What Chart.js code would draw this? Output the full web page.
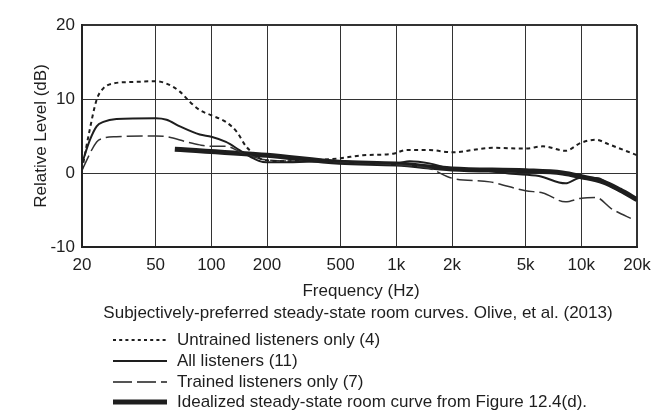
<!DOCTYPE html>
<html><head><meta charset="utf-8">
<script src="https://cdn.jsdelivr.net/npm/chart.js@4/dist/chart.umd.min.js"></script>
<style>html,body{margin:0;padding:0;background:#fff}#wrap{width:671px;height:414px}</style>
</head><body><div id="wrap"><canvas id="c" width="671" height="414"></canvas></div>
<script>
const xTickValues = [20, 50, 100, 200, 500, 1000, 2000, 5000, 10000, 20000];
const xTickLabels = ['20', '50', '100', '200', '500', '1k', '2k', '5k', '10k', '20k'];
const yTickValues = [-10, 0, 10, 20];

const untrainedFreq = [20, 22, 24, 26, 29.5, 37.6, 50, 57, 67.6, 76.7, 86.6, 100, 120, 137, 154, 168, 190, 250, 350, 500, 660, 960, 1130, 1510, 2000, 3300, 5000, 6200, 8200, 10000, 12000, 14000, 20000];
const untrainedDb   = [0.4, 5.8, 9.9, 11.4, 12.1, 12.3, 12.4, 12.1, 11.0, 9.6, 8.5, 7.8, 6.9, 5.6, 3.6, 2.7, 1.8, 1.6, 1.7, 2.0, 2.4, 2.6, 3.1, 3.1, 2.8, 3.4, 3.3, 3.6, 3.0, 4.1, 4.5, 3.9, 2.4];

const allFreq = [20, 22.1, 24, 26.1, 30.7, 50, 57.3, 67.6, 86.6, 100, 120, 142, 168, 190, 245, 437, 1000, 1180, 1510, 1870, 2800, 4200, 5900, 8200, 10000, 12400, 14500, 20000];
const allDb   = [1.3, 4.5, 6.3, 6.9, 7.3, 7.4, 7.2, 6.3, 5.2, 4.9, 4.2, 3.1, 2.0, 1.5, 1.45, 1.6, 1.3, 1.6, 1.3, 0.7, 0.4, -0.1, -0.4, -1.4, -0.6, -0.7, -1.8, -3.6];

const trainedFreq = [20, 24, 26.1, 30.7, 50, 57.3, 73.6, 86.6, 100, 120, 142, 168, 199, 300, 500, 1000, 1510, 2000, 3200, 5000, 6200, 8200, 10000, 12000, 14500, 19500];
const trainedDb   = [0.4, 4.2, 4.7, 4.9, 5.0, 4.9, 4.2, 3.8, 3.6, 3.6, 2.9, 2.2, 1.76, 1.6, 1.5, 1.1, 0.6, -0.7, -1.2, -2.4, -2.7, -3.9, -3.4, -3.3, -4.8, -6.4];

const idealFreq = [63.5, 200, 492, 1000, 2000, 5000, 7900, 10000, 13100, 16200, 20000];
const idealDb   = [3.2, 2.4, 1.45, 1.2, 0.55, 0.3, 0.0, -0.5, -1.2, -2.3, -3.6];

const seriesNames = ['Untrained listeners only (4)', 'All listeners (11)', 'Trained listeners only (7)', 'Idealized steady-state room curve from Figure 12.4(d).'];
const captionText = 'Subjectively-preferred steady-state room curves. Olive, et al. (2013)';
const xTitleText = 'Frequency (Hz)';

const FONT = '"Liberation Sans", Arial, Helvetica, sans-serif';
const INK = '#1e1e1e';
const pts = (f, d) => f.map((v, i) => ({x: v, y: d[i]}));

const bottomPlugin = {
  id: 'bottomText',
  afterDraw(chart) {
    const ctx = chart.ctx;
    ctx.save();
    ctx.fillStyle = INK;
    ctx.textBaseline = 'middle';
    ctx.font = '17px ' + FONT;
    ctx.textAlign = 'center';
    ctx.fillText(xTitleText, 361, 291);
    ctx.fillText(captionText, 358, 313);
    ctx.textAlign = 'left';
    const rows = [340, 361, 382, 402];
    chart.data.datasets.forEach((ds, i) => {
      ctx.save();
      ctx.strokeStyle = INK;
      ctx.lineWidth = ds.legendWidth;
      ctx.setLineDash(ds.legendDash);
      ctx.beginPath();
      ctx.moveTo(113, rows[i]);
      ctx.lineTo(167, rows[i]);
      ctx.stroke();
      ctx.restore();
      ctx.fillText(ds.label, 177, rows[i]);
    });
    ctx.restore();
  }
};

new Chart(document.getElementById('c'), {
  type: 'line',
  data: {
    datasets: [
      {label: seriesNames[0], data: pts(untrainedFreq, untrainedDb), borderColor: INK, borderWidth: 2, borderDash: [4, 3.5], legendDash: [3, 3.2], legendWidth: 2},
      {label: seriesNames[1], data: pts(allFreq, allDb), borderColor: INK, borderWidth: 2, borderDash: [], legendDash: [], legendWidth: 2},
      {label: seriesNames[2], data: pts(trainedFreq, trainedDb), borderColor: '#333', borderWidth: 1.5, borderDash: [16, 5], legendDash: [19, 5], legendWidth: 1.5},
      {label: seriesNames[3], data: pts(idealFreq, idealDb), borderColor: INK, borderWidth: 5, borderDash: [], legendDash: [], legendWidth: 5}
    ]
  },
  options: {
    responsive: false,
    animation: false,
    devicePixelRatio: 1,
    layout: {padding: {left: 0, right: 34, top: 25, bottom: 0}},
    elements: {point: {radius: 0}, line: {cubicInterpolationMode: 'monotone', fill: false}},
    plugins: {legend: {display: false}, tooltip: {enabled: false}},
    scales: {
      x: {
        type: 'logarithmic', min: 20, max: 20000,
        afterBuildTicks: s => { s.ticks = xTickValues.map(v => ({value: v})); },
        afterFit: s => { s.height = 167; },
        ticks: {autoSkip: false, maxRotation: 0, padding: 8, color: INK, font: {family: FONT, size: 17},
          callback: (v, i) => xTickLabels[i]},
        grid: {drawTicks: false, color: '#333', lineWidth: c => (c.tick && (c.tick.value === 20000)) ? 2 : 1},
        border: {display: true, color: '#222', width: 2}
      },
      y: {
        min: -10, max: 20,
        afterBuildTicks: s => { s.ticks = yTickValues.map(v => ({value: v})); },
        afterFit: s => { s.width = 82; },
        ticks: {padding: 7, color: INK, font: {family: FONT, size: 17}},
        grid: {drawTicks: false, color: '#333', lineWidth: c => (c.tick && (c.tick.value === 20)) ? 2 : 1},
        border: {display: true, color: '#222', width: 2},
        title: {display: true, text: 'Relative Level (dB)', color: INK, font: {family: FONT, size: 17}, padding: {top: 31, bottom: 0}}
      }
    }
  },
  plugins: [bottomPlugin]
});
</script></body></html>
